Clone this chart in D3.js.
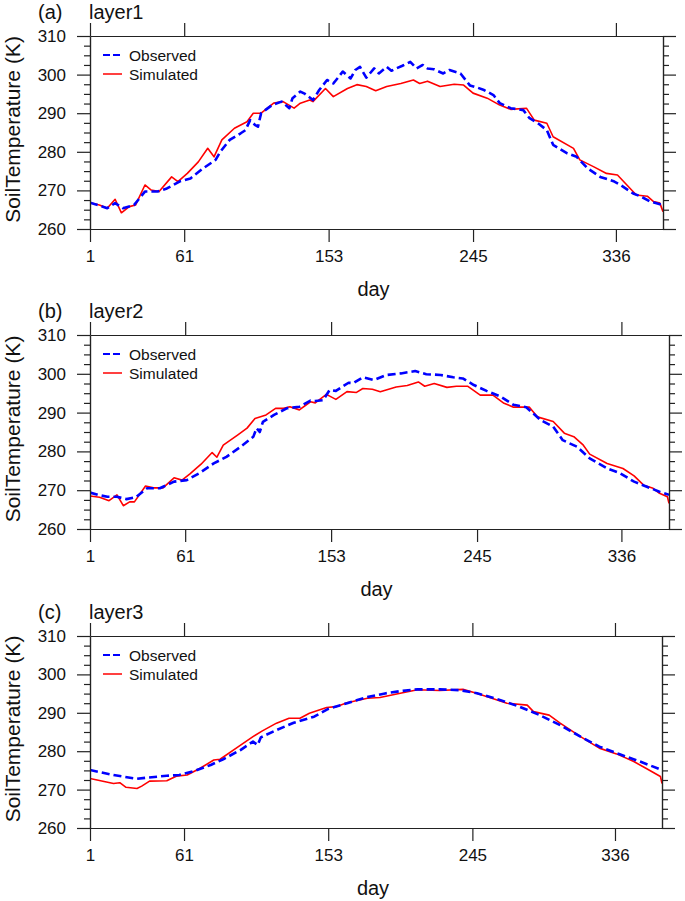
<!DOCTYPE html>
<html>
<head>
<meta charset="utf-8">
<script src="https://cdn.jsdelivr.net/npm/d3@7"></script>
<style>
  html, body { margin: 0; padding: 0; background: #fff; }
  svg { display: block; }
  text { font-family: "Liberation Sans", Arial, Helvetica, sans-serif; fill: #111; }
</style>
</head>
<body>
<svg id="chart" width="685" height="901"></svg>
<script>
// ---------------- data ----------------
const dayTicks = [1, 61, 153, 245, 336];
const tempTicks = [260, 270, 280, 290, 300, 310];
const panelLetters = ["(a)", "(b)", "(c)"];
const panelTitles = ["layer1", "layer2", "layer3"];
const seriesNames = ["Observed", "Simulated"];

const layer1Observed = [[1,266.8],[6,266.2],[12,265.4],[17,266.7],[22,265.4],[29,266.2],[36,269.7],[44,269.7],[50,270.5],[58,272.3],[65,273.1],[73,275.7],[81,277.9],[84,280.0],[90,283.1],[97,284.8],[100,285.6],[103,288.2],[106,287.0],[108,286.5],[110,290.0],[117,292.1],[123,293.0],[128,291.3],[130,293.9],[135,295.6],[138,295.0],[143,293.4],[147,296.0],[152,298.6],[156,297.7],[159,299.2],[162,300.8],[167,299.0],[170,301.2],[173,302.0],[177,299.2],[182,301.6],[185,300.3],[190,302.0],[193,301.0],[196,301.6],[200,302.3],[205,303.3],[209,301.6],[213,302.5],[216,301.6],[220,301.4],[226,300.3],[230,301.2],[237,300.3],[243,297.2],[248,296.6],[252,296.0],[258,294.7],[262,292.6],[269,291.3],[277,290.8],[281,288.7],[287,287.2],[292,285.6],[296,281.8],[305,279.6],[311,278.7],[318,275.7],[326,273.5],[335,272.3],[339,271.4],[347,269.2],[352,268.4],[358,267.1],[366,266.2]];
const layer1Simulated = [[1,266.8],[7,266.2],[12,265.4],[17,267.7],[21,264.2],[26,265.8],[30,266.2],[36,271.4],[40,270.1],[45,269.7],[53,273.5],[57,272.3],[63,274.4],[70,277.4],[76,280.9],[80,278.7],[85,283.1],[93,286.1],[101,287.8],[105,290.0],[110,290.0],[118,292.6],[124,293.0],[131,291.3],[135,292.6],[141,293.4],[143,293.0],[151,296.4],[156,294.3],[165,296.4],[171,297.4],[177,296.9],[183,295.8],[190,296.9],[199,297.7],[207,298.6],[211,297.7],[216,298.3],[224,296.9],[233,297.5],[239,297.3],[245,295.2],[254,293.9],[262,292.1],[269,291.0],[279,291.3],[284,288.2],[292,287.4],[296,283.9],[309,280.9],[313,277.9],[322,276.1],[330,274.4],[337,274.0],[343,271.4],[349,268.8],[356,268.5],[360,267.1],[364,266.7],[366,264.5]];

const layer2Observed = [[1,269.4],[6,268.8],[12,268.3],[18,268.3],[24,267.7],[30,268.2],[37,270.5],[45,270.5],[54,272.2],[62,272.6],[70,274.4],[79,276.9],[87,278.6],[96,281.2],[104,283.8],[106,286.0],[108,285.0],[110,287.6],[117,289.4],[125,291.1],[133,291.5],[140,293.1],[143,293.0],[148,293.2],[152,295.8],[156,295.6],[164,297.7],[167,297.6],[173,299.1],[180,298.4],[188,299.7],[197,300.1],[206,300.7],[213,299.9],[222,299.7],[230,299.1],[236,298.8],[243,297.1],[251,295.6],[260,294.1],[268,292.0],[276,291.4],[285,288.1],[293,286.4],[299,282.9],[308,281.2],[316,278.2],[327,275.6],[335,274.4],[344,272.2],[352,270.9],[360,269.6],[366,268.8]];
const layer2Simulated = [[1,268.5],[7,268.2],[13,267.3],[18,268.8],[22,266.0],[26,267.0],[29,267.0],[36,271.1],[41,270.6],[47,270.6],[54,273.2],[59,272.6],[64,274.2],[71,276.7],[78,279.7],[81,278.5],[85,281.6],[94,284.2],[100,286.0],[105,288.5],[112,289.4],[118,291.1],[123,291.1],[127,291.5],[133,290.7],[140,292.8],[143,292.5],[150,294.7],[156,293.4],[163,295.4],[169,295.2],[173,296.2],[179,296.0],[184,295.4],[194,296.6],[201,297.0],[208,297.9],[212,296.8],[218,297.5],[226,296.5],[232,296.8],[239,296.8],[247,294.5],[255,294.5],[262,292.4],[268,291.4],[278,291.4],[283,288.9],[293,287.7],[300,284.7],[306,283.8],[312,281.6],[316,279.3],[327,276.9],[337,275.6],[344,273.7],[350,271.3],[356,270.5],[360,269.2],[365,268.3],[366,266.6]];

const layer3Observed = [[1,275.1],[16,273.8],[31,272.8],[37,273.1],[50,273.6],[58,273.8],[68,274.9],[78,276.4],[86,277.9],[97,280.3],[105,282.5],[108,281.6],[110,283.6],[120,285.5],[131,287.4],[144,289.0],[153,291.0],[165,292.5],[177,294.0],[190,295.1],[200,295.7],[210,296.1],[224,296.1],[237,295.9],[248,295.1],[263,293.3],[275,291.6],[288,289.4],[301,286.8],[314,283.8],[326,281.2],[339,279.2],[352,277.3],[366,275.1]];
const layer3Simulated = [[1,272.9],[10,272.1],[16,271.6],[20,271.8],[24,270.6],[31,270.3],[34,270.9],[39,272.2],[50,272.3],[56,273.5],[63,273.8],[71,275.5],[80,277.7],[84,277.9],[95,281.0],[105,283.8],[111,285.3],[120,287.3],[128,288.6],[135,288.6],[141,289.9],[152,291.4],[158,291.6],[165,292.6],[178,293.8],[186,294.0],[199,295.1],[210,296.0],[224,295.8],[239,296.1],[246,295.3],[256,294.0],[267,292.5],[280,292.0],[284,290.3],[294,289.4],[301,287.3],[314,283.8],[326,280.8],[337,279.3],[348,277.3],[356,275.5],[365,273.4],[366,271.6]];

// ---------------- drawing ----------------
const svg = d3.select("#chart");
const layout = [
  {top: 36, bottom: 229, left: 90, right: 663},
  {top: 335, bottom: 529, left: 90, right: 669},
  {top: 636, bottom: 828, left: 90, right: 662}
];
const allSeries = [
  [layer1Observed, layer1Simulated],
  [layer2Observed, layer2Simulated],
  [layer3Observed, layer3Simulated]
];
const colors = ["#0000ff", "#ff0000"];
const widths = [2.6, 1.6];
const dashes = ["8,4", null];
const minorTicks = d3.range(260, 310.01, 2.5).filter(v => !tempTicks.includes(v));

layout.forEach((L, i) => {
  const g = svg.append("g");
  const x = d3.scaleLinear().domain([1, 366]).range([L.left, L.right]);
  const y = d3.scaleLinear().domain([260, 310]).range([L.bottom, L.top]);

  // data lines (clipped)
  const clipId = "clip" + i;
  svg.append("clipPath").attr("id", clipId).append("rect")
    .attr("x", L.left).attr("y", L.top).attr("width", L.right - L.left).attr("height", L.bottom - L.top);
  const line = d3.line().x(d => x(d[0])).y(d => y(d[1])).curve(d3.curveLinear);
  [1, 0].forEach(k => {
    g.append("path").datum(allSeries[i][k])
      .attr("clip-path", `url(#${clipId})`)
      .attr("d", line).attr("fill", "none")
      .attr("stroke", colors[k]).attr("stroke-width", widths[k])
      .attr("stroke-dasharray", dashes[k]).attr("stroke-linejoin", "round");
  });

  // axes
  const axisStyle = sel => {
    sel.select(".domain").attr("stroke", "#222").attr("stroke-width", 1.2);
    sel.selectAll(".tick line").attr("stroke", "#222").attr("stroke-width", 1.2);
  };
  const bottom = g.append("g").attr("transform", `translate(0,${L.bottom})`)
    .call(d3.axisBottom(x).tickValues(dayTicks).tickSize(13).tickSizeOuter(0).tickPadding(8));
  axisStyle(bottom);
  bottom.selectAll("text").attr("font-size", 17).attr("fill", "#111")
    .attr("font-family", '"Liberation Sans", Arial, sans-serif');
  const top = g.append("g").attr("transform", `translate(0,${L.top})`)
    .call(d3.axisTop(x).tickValues(dayTicks).tickSize(13).tickSizeOuter(0).tickFormat(""));
  axisStyle(top);

  const leftMinor = g.append("g").attr("transform", `translate(${L.left},0)`)
    .call(d3.axisLeft(y).tickValues(minorTicks).tickSize(6).tickSizeOuter(0).tickFormat(""));
  axisStyle(leftMinor);
  const left = g.append("g").attr("transform", `translate(${L.left},0)`)
    .call(d3.axisLeft(y).tickValues(tempTicks).tickSize(13).tickSizeOuter(0).tickPadding(11));
  axisStyle(left);
  left.selectAll("text").attr("font-size", 17).attr("fill", "#111")
    .attr("font-family", '"Liberation Sans", Arial, sans-serif');

  const rightMinor = g.append("g").attr("transform", `translate(${L.right},0)`)
    .call(d3.axisRight(y).tickValues(minorTicks).tickSize(6).tickSizeOuter(0).tickFormat(""));
  axisStyle(rightMinor);
  const right = g.append("g").attr("transform", `translate(${L.right},0)`)
    .call(d3.axisRight(y).tickValues(tempTicks).tickSize(13).tickSizeOuter(0).tickFormat(""));
  axisStyle(right);

  // titles
  g.append("text").attr("x", 38).attr("y", L.top - 17).attr("font-size", 20).text(panelLetters[i]);
  g.append("text").attr("x", 89).attr("y", L.top - 17).attr("font-size", 20).text(panelTitles[i]);

  // axis labels
  g.append("text").attr("x", (L.left + L.right) / 2 - 3).attr("y", L.bottom + 67)
    .attr("text-anchor", "middle").attr("font-size", 20).text("day");
  g.append("text")
    .attr("transform", `translate(20,${(L.top + L.bottom) / 2 - 3}) rotate(-90)`)
    .attr("text-anchor", "middle").attr("font-size", 21).text("SoilTemperature (K)");

  // legend
  seriesNames.forEach((name, k) => {
    const ly = L.top + 19 + k * 19;
    g.append("line").attr("x1", 103).attr("x2", 122).attr("y1", ly).attr("y2", ly)
      .attr("stroke", colors[k]).attr("stroke-width", k === 0 ? 2 : 1.5)
      .attr("stroke-dasharray", k === 0 ? "7,3" : null);
    g.append("text").attr("x", 129).attr("y", ly + 5.5).attr("font-size", 15.5).text(name);
  });
});
</script>
</body>
</html>
